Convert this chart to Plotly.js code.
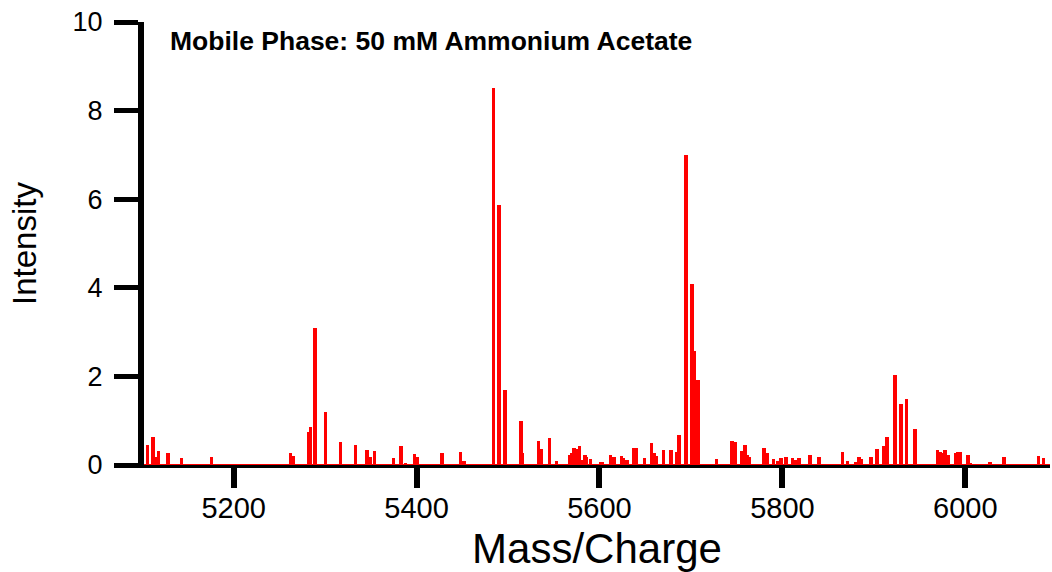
<!DOCTYPE html>
<html>
<head>
<meta charset="utf-8">
<script src="https://cdn.plot.ly/plotly-3.0.1.min.js"></script>
<style>html,body{margin:0;padding:0;background:#fff;}#chart{width:1052px;height:572px;}</style>
</head>
<body>
<div id="chart"></div>
<script>
// Mass/Charge values of the peaks
const massCharge = [5106,5112,5115,5118,5128,5143,5176,5262,5265,5282,5284,5289,5300.6,5317,5333,5346,5349,5354,5375,5383,5388,5398,5401,5428,5448,5452,
  5484.3,5490,5496.5,5514,5516,5533.5,5536,5545.6,5553,5567,5570,5572,5575.5,5578,5581,5584,5586,5590,5601,5603,5612,5616,5624,5626,5630,5637,5640,5649,
  5657,5660,5662,5670,5678,5684,5687,5694.6,5701,5703.5,5707.5,5728,5745,5748.5,5755.5,5759,5762,5764,5780,5783,5790,5795,5798.5,5804,5811,5815,5818,
  5830,5840,5866,5871,5880,5884,5886,5897,5903.4,5911,5914.6,5923,5929.7,5935.7,5945,5969.4,5973,5976,5978,5981,5989,5992,5994.5,6002.7,6005,6027,6042.5,6080,6085.7];
// Intensity of each peak
const intensity = [0.45,0.64,0.18,0.32,0.26,0.15,0.19,0.28,0.2,0.75,0.86,3.09,1.2,0.53,0.45,0.35,0.19,0.32,0.16,0.44,0.05,0.25,0.18,0.28,0.3,0.1,
  8.52,5.88,1.70,1.0,0.28,0.54,0.37,0.62,0.1,0.23,0.28,0.39,0.36,0.42,0.12,0.23,0.18,0.14,0.06,0.06,0.22,0.18,0.2,0.16,0.12,0.39,0.39,0.15,
  0.5,0.27,0.2,0.35,0.35,0.3,0.68,7.0,4.09,2.58,1.93,0.14,0.54,0.51,0.32,0.45,0.22,0.17,0.39,0.26,0.14,0.08,0.16,0.19,0.16,0.12,0.16,
  0.22,0.19,0.3,0.08,0.07,0.18,0.13,0.17,0.37,0.44,0.63,2.03,1.38,1.48,0.82,0.35,0.3,0.26,0.35,0.22,0.28,0.29,0.3,0.22,0.05,0.07,0.18,0.21,0.15];

const xTicks = [5200,5400,5600,5800,6000];
const yTicks = [0,2,4,6,8,10];
const chartTitle = 'Mobile Phase: 50 mM Ammonium Acetate';

const FONT = 'Liberation Sans, Arial, Helvetica, sans-serif';

const trace = {
  type: 'bar',
  x: massCharge,
  y: intensity,
  width: 3.8,
  marker: {color: '#ff0000', line: {width: 0}},
  hoverinfo: 'x+y'
};

const layout = {
  width: 1052, height: 572,
  margin: {l: 144, r: 2, t: 22, b: 107},
  paper_bgcolor: '#fff', plot_bgcolor: '#fff',
  showlegend: false,
  font: {family: FONT, color: '#000'},
  xaxis: {
    range: [5102, 6092.6],
    tickvals: xTicks, ticktext: xTicks.map(String),
    ticks: 'outside', ticklen: 20, tickwidth: 6, tickcolor: '#000',
    showline: true, linewidth: 3, linecolor: '#000',
    showgrid: false, zeroline: false,
    ticklabelstandoff: -5,
    tickfont: {size: 29, family: FONT},
    title: {text: 'Mass/Charge', font: {size: 42, family: FONT}, standoff: 16}
  },
  yaxis: {
    range: [0, 10],
    tickvals: yTicks, ticktext: yTicks.map(String),
    ticks: 'outside', ticklen: 24, tickwidth: 5, tickcolor: '#000',
    showline: true, linewidth: 6, linecolor: '#000',
    showgrid: false, zeroline: false,
    ticklabelstandoff: 6,
    tickfont: {size: 27, family: FONT},
    title: {text: 'Intensity', font: {size: 33, family: FONT}, standoff: 28}
  },
  shapes: [{
    type: 'line', xref: 'paper', yref: 'y', x0: 0, x1: 1, y0: 0, y1: 0,
    line: {color: '#ff0000', width: 2}, layer: 'above'
  }],
  annotations: [{
    text: '<b>' + chartTitle + '</b>',
    xref: 'paper', yref: 'paper',
    x: (168 - 144) / 906, y: 0.957,
    xanchor: 'left', yanchor: 'middle',
    showarrow: false,
    font: {size: 26.5, family: FONT, color: '#000'}
  }],
  bargap: 0
};

Plotly.newPlot('chart', [trace], layout, {displayModeBar: false, staticPlot: true});
</script>
</body>
</html>
